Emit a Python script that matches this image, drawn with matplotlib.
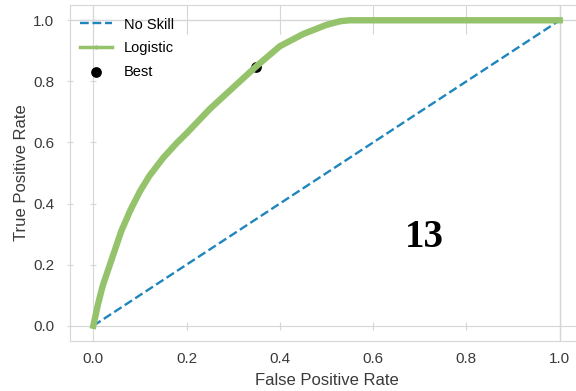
import matplotlib.pyplot as plt
import numpy as np

# ROC curve values
fpr = [0.0, 0.01, 0.02, 0.04, 0.06, 0.08, 0.10, 0.12, 0.15, 0.18, 0.20,
       0.25, 0.30, 0.35, 0.40, 0.45, 0.50, 0.53, 0.55, 0.60, 0.70, 0.80, 0.90, 1.0]
tpr = [0.0, 0.07, 0.13, 0.22, 0.31, 0.38, 0.44, 0.49, 0.55, 0.60, 0.63,
       0.71, 0.78, 0.85, 0.915, 0.955, 0.985, 0.997, 1.0, 1.0, 1.0, 1.0, 1.0, 1.0]
skill_x = [0.0, 1.0]
skill_y = [0.0, 1.0]
best_x = [0.348]
best_y = [0.847]
ticks = [0.0, 0.2, 0.4, 0.6, 0.8, 1.0]
note = '13'

plt.rcParams['font.family'] = ['Liberation Sans', 'DejaVu Sans']
grid_c = '#d6d6d6'
text_c = '#3a3a3a'

fig = plt.figure(figsize=(5.76, 3.91), dpi=100)
ax = fig.add_axes([70 / 576, 1 - 341 / 391, (583 - 70) / 576, (341 - 5) / 391])

ax.plot(skill_x, skill_y, linestyle='--', color='#1f86bd', lw=1.7, label='No Skill')
ax.plot(fpr, tpr, marker='.', markersize=4, color='#95c36b', lw=4.6, label='Logistic',
        solid_joinstyle='round')
ax.scatter(best_x, best_y, color='black', s=45, label='Best')

ax.set_xlim(-0.05, 1.05)
ax.set_ylim(-0.05, 1.05)
ax.set_xticks(ticks)
ax.set_yticks(ticks)

# lines at 0 and 1 (rest of the grid is hidden in the reference)
ax.axhline(1.0, color=grid_c, lw=1, zorder=0)
ax.axvline(1.0, color=grid_c, lw=1, zorder=0)
sy = ax.secondary_yaxis(0.05 / 1.1)
sy.set_yticks(ticks)
sy.tick_params(labelleft=False, direction='inout', length=5, color=grid_c)
sy.spines['left'].set_color(grid_c)
sx = ax.secondary_xaxis(0.05 / 1.1)
sx.set_xticks(ticks)
sx.tick_params(labelbottom=False, direction='inout', length=6, color=grid_c)
sx.spines['bottom'].set_color(grid_c)

for s in ['left', 'bottom', 'top', 'right']:
    ax.spines[s].set_color(grid_c)
ax.tick_params(axis='x', bottom=False, top=True, direction='in', length=21,
               color=grid_c, labelsize=11, labelcolor=text_c, pad=8)
ax.tick_params(axis='y', left=True, direction='inout', length=5,
               color=grid_c, labelsize=11, labelcolor=text_c, pad=9)

ax.set_xlabel('False Positive Rate', fontsize=12, color=text_c, labelpad=5)
ax.set_ylabel('True Positive Rate', fontsize=12, color=text_c, labelpad=3)

ax.text(0.71, 0.29, note, fontsize=28, fontweight='bold', family='Liberation Serif',
        ha='center', va='center')

leg = ax.legend(loc='upper left', frameon=False, fontsize=10.5, handlelength=2.2,
                labelspacing=0.65, borderaxespad=0.0, bbox_to_anchor=(0.008, 0.98))
leg.get_lines()[1].set_linewidth(2.5)

fig.savefig('out.png', dpi=100)
